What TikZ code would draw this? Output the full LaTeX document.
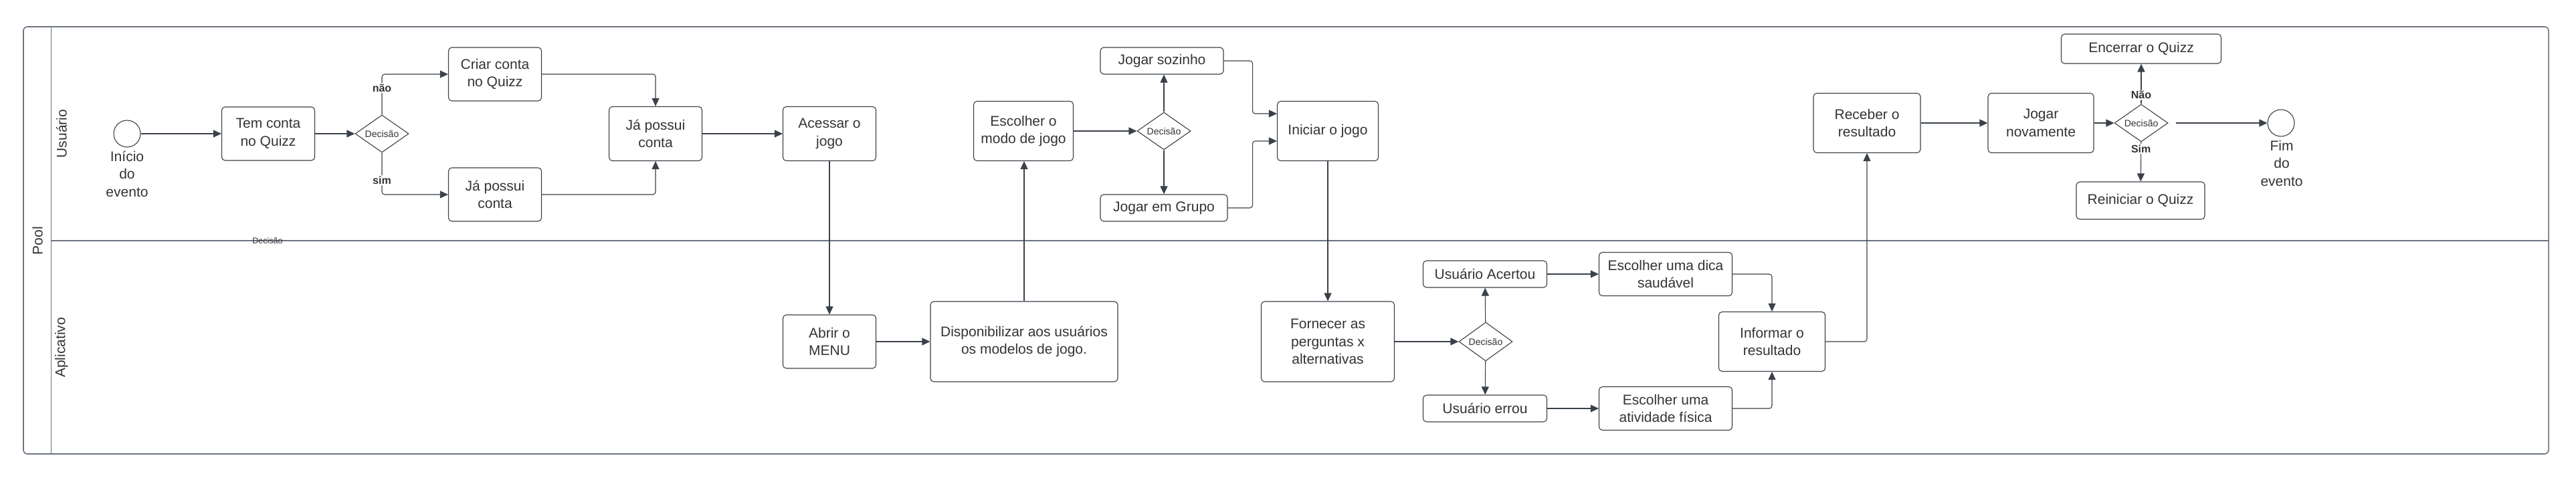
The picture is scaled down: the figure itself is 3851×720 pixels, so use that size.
\documentclass[tikz,border=0pt]{standalone}
\usepackage{fontspec}
\setmainfont{Liberation Sans}
\usepackage{tikz}
\usetikzlibrary{arrows.meta,shapes.geometric}
\definecolor{linha}{HTML}{3A414A}
\definecolor{borda}{HTML}{6B7280}
\definecolor{texto}{HTML}{333333}
\newcommand{\fonte}{\fontsize{21}{26.5}\selectfont}
\tikzset{
	caixa/.style={draw=linha, fill=white, rounded corners=5pt, line width=1.1pt,
		align=center, font=\fonte, text=texto, inner sep=0pt},
	decisao/.style={diamond, draw=linha, fill=white, line width=1.1pt, aspect=1.43,
		inner sep=0pt, minimum width=80pt, minimum height=56pt,
		font=\fontsize{14}{16}\selectfont, text=texto},
	evento/.style={circle, draw=linha, line width=1.1pt, minimum size=40pt, inner sep=0pt},
	seta/.style={draw=linha, line width=1.1pt, rounded corners=4pt,
		-{Triangle[length=12pt,width=11pt]}},
	rotulo/.style={fill=white, inner sep=1.5pt, text=texto,
		font=\fontsize{16}{18}\selectfont\bfseries},
	raia/.style={rotate=90, font=\fontsize{21}{24}\selectfont, text=texto}
}
\begin{document}
\begin{tikzpicture}[x=1pt,y=-1pt]
		\useasboundingbox (0,0) rectangle (3851,720);
		%pool and lanes
		\draw [borda,line width=1.6pt,rounded corners=6pt] (35,40) rectangle (3810,679);
		\draw [borda,line width=1.6pt] (76.5,40) -- (76.5,679);
		\draw [borda,line width=1.6pt] (76.5,360) -- (3810,360);
		\node [raia] (pool) at (56,360) {Pool};
		\node [raia] (usuario) at (92,200) {Usuário};
		\node [raia] (aplicativo) at (92,520) {Aplicativo};
		\node [text=texto,font=\fontsize{12.5}{14}\selectfont] (solta) at (400,360) {Decisão};
		%lane Usuario
		\node [evento] (inicio) at (190,200) {};
		\node [align=center,font=\fonte,text=texto] (tinicio) at (190,260) {Início\\do\\evento};
		\node [caixa,minimum width=139pt,minimum height=80pt] (tem) at (401,200) {Tem conta\\no Quizz};
		\node [decisao] (d1) at (571,200) {Decisão};
		\node [caixa,minimum width=139pt,minimum height=80pt] (criar) at (740,111) {Criar conta\\no Quizz};
		\node [caixa,minimum width=139pt,minimum height=80pt] (possui1) at (740,291) {Já possui\\conta};
		\node [caixa,minimum width=139pt,minimum height=81pt] (possui2) at (980,200) {Já possui\\conta};
		\node [caixa,minimum width=139pt,minimum height=81pt] (acessar) at (1240,200) {Acessar o\\jogo};
		\node [caixa,minimum width=149pt,minimum height=89pt] (escolher) at (1530,196) {Escolher o\\modo de jogo};
		\node [decisao] (d2) at (1740,196) {Decisão};
		\node [caixa,minimum width=184pt,minimum height=40pt] (sozinho) at (1737,91) {Jogar sozinho};
		\node [caixa,minimum width=190pt,minimum height=40pt] (grupo) at (1740,311) {Jogar em Grupo};
		\node [caixa,minimum width=151pt,minimum height=89pt] (iniciar) at (1985,196) {Iniciar o jogo};
		\node [caixa,minimum width=160pt,minimum height=89pt] (receber) at (2791,184) {Receber o\\resultado};
		\node [caixa,minimum width=158pt,minimum height=89pt] (novamente) at (3051,184) {Jogar\\novamente};
		\node [decisao] (d3) at (3201,184) {Decisão};
		\node [caixa,minimum width=239pt,minimum height=44pt] (encerrar) at (3201,73) {Encerrar o Quizz};
		\node [caixa,minimum width=192pt,minimum height=56pt] (reiniciar) at (3200,300) {Reiniciar o Quizz};
		\node [evento] (fim) at (3410,184) {};
		\node [align=center,font=\fonte,text=texto] (tfim) at (3411,244) {Fim\\do\\evento};
		%lane Aplicativo
		\node [caixa,minimum width=139pt,minimum height=80pt] (abrir) at (1240,511) {Abrir o\\MENU};
		\node [caixa,minimum width=280pt,minimum height=120pt] (dispo) at (1531,511) {Disponibilizar aos usuários\\os modelos de jogo.};
		\node [caixa,minimum width=199pt,minimum height=120pt] (fornecer) at (1985,511) {Fornecer as\\perguntas x\\alternativas};
		\node [decisao,minimum height=58pt] (d4) at (2221,511) {Decisão};
		\node [caixa,minimum width=185pt,minimum height=40pt] (acertou) at (2220,410) {Usuário Acertou};
		\node [caixa,minimum width=185pt,minimum height=40pt] (errou) at (2220,611) {Usuário errou};
		\node [caixa,minimum width=199pt,minimum height=65pt] (dica) at (2490,410) {Escolher uma dica\\saudável};
		\node [caixa,minimum width=199pt,minimum height=65pt] (atividade) at (2490,611) {Escolher uma\\atividade física};
		\node [caixa,minimum width=159pt,minimum height=89pt] (informar) at (2649,511) {Informar o\\resultado};
		%connectors
		\draw [seta] (inicio) -- (tem);
		\draw [seta] (tem) -- (d1);
		\draw [seta] (d1.north) |- (criar.west) node [rotulo,pos=0.33] {não};
		\draw [seta] (d1.south) |- (possui1.west) node [rotulo,pos=0.33] {sim};
		\draw [seta] (criar.east) -| (possui2.north);
		\draw [seta] (possui1.east) -| (possui2.south);
		\draw [seta] (possui2) -- (acessar);
		\draw [seta] (acessar) -- (abrir);
		\draw [seta] (abrir) -- (dispo);
		\draw [seta] (dispo.north) -- (dispo.north |- escolher.south);
		\draw [seta] (escolher) -- (d2);
		\draw [seta] (d2.north) -- (d2.north |- sozinho.south);
		\draw [seta] (d2.south) -- (d2.south |- grupo.north);
		\draw [seta] (sozinho.east) -- ++(43,0) |- ([yshift=26pt]iniciar.west);
		\draw [seta] (grupo.east) -- ++(37,0) |- ([yshift=-15pt]iniciar.west);
		\draw [seta] (iniciar) -- (fornecer);
		\draw [seta] (fornecer) -- (d4);
		\draw [seta] (d4) -- (acertou);
		\draw [seta] (d4) -- (errou);
		\draw [seta] (acertou) -- (dica);
		\draw [seta] (errou) -- (atividade);
		\draw [seta] (dica.east) -| (informar.north);
		\draw [seta] (atividade.east) -| (informar.south);
		\draw [seta] (informar.east) -| (receber.south);
		\draw [seta] (receber) -- (novamente);
		\draw [seta] (novamente) -- (d3);
		\draw [seta] (d3) -- (encerrar) node [rotulo,pos=0.22] {Não};
		\draw [seta] (d3) -- (reiniciar) node [rotulo,pos=0.17] {Sim};
		\draw [seta,shorten <=11pt] (d3) -- (fim);
\end{tikzpicture}
\end{document}
